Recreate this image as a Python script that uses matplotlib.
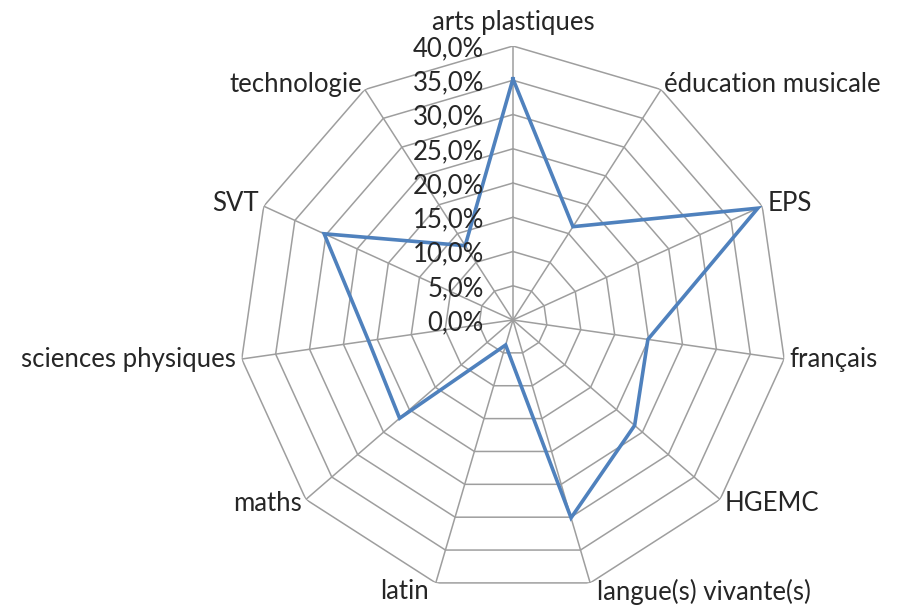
import numpy as np
import matplotlib
matplotlib.use("Agg")
import matplotlib.pyplot as plt

# data (percent)
categories = ["arts plastiques", "éducation musicale", "EPS", "français", "HGEMC",
              "langue(s) vivante(s)", "latin", "maths", "sciences physiques",
              "SVT", "technologie"]
values = [35.2, 16.2, 39.3, 19.9, 23.5, 30.1, 3.8, 21.9, 21.3, 30.3, 12.9]
ticks = [0, 5, 10, 15, 20, 25, 30, 35, 40]
tick_labels = ["0,0%", "5,0%", "10,0%", "15,0%", "20,0%", "25,0%", "30,0%", "35,0%", "40,0%"]

plt.rcParams["font.family"] = ["Lato", "DejaVu Sans"]
text_color = "#262626"
grid_color = "#9e9e9e"
line_color = "#4f81bd"
fs = 18.5

n = len(categories)
angles = np.linspace(0, 2 * np.pi, n, endpoint=False)

fig = plt.figure(figsize=(8.99, 6.07), dpi=100)
ax = fig.add_axes([0.2658, 0.0214, 0.6096, 0.9028], projection="polar")
ax.set_theta_zero_location("N")
ax.set_theta_direction(-1)
ax.set_ylim(0, 40)
ax.grid(False)
ax.spines["polar"].set_visible(False)
ax.set_xticks([])
ax.set_yticks([])

# polygon rings and spokes
closed = np.append(angles, angles[0])
for t in ticks[1:]:
    ax.plot(closed, [t] * (n + 1), color=grid_color, lw=1.1, zorder=1)
for a in angles:
    ax.plot([a, a], [0, 40], color=grid_color, lw=1.1, zorder=1)

# data series
ax.plot(closed, values + values[:1], color=line_color, lw=2.6, zorder=3,
        solid_joinstyle="miter")

# tick labels along the top spoke
for t, lab in zip(ticks, tick_labels):
    ax.annotate(lab, xy=(0, t), xytext=(-21, -2), textcoords="offset points",
                ha="right", va="center", fontsize=fs, color=text_color)

# category labels
for a, lab in zip(angles, categories):
    s, c = np.sin(a), np.cos(a)
    if abs(s) < 0.1:
        ha = "center"
    elif s > 0:
        ha = "left"
    else:
        ha = "right"
    if c > 0.5 and abs(s) < 0.1:
        va, dx, dy = "bottom", 0, 8
    elif c < -0.7:
        va, dx, dy = "center", 5 * np.sign(s), -6.5
    else:
        va, dx, dy = "center", 4 * s, 4 * c
    ax.annotate(lab, xy=(a, 40), xytext=(dx, dy), textcoords="offset points",
                ha=ha, va=va, fontsize=fs, color=text_color)

fig.savefig("out.png", dpi=100)
